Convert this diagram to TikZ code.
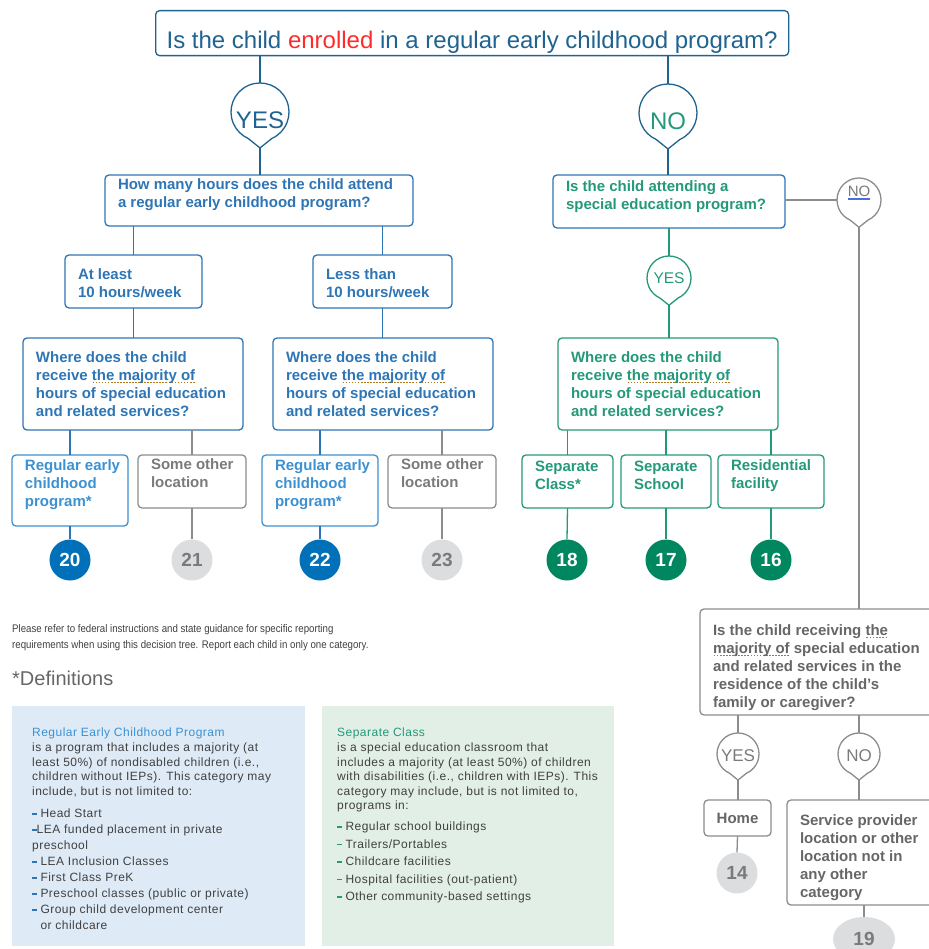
\documentclass[tikz,border=0pt]{standalone}
\usepackage{fontspec}
\setmainfont{Liberation Sans}
\newfontfamily\narrowfont{Liberation Sans}[FakeStretch=0.88]
\newfontfamily\panelfont{Liberation Sans}[LetterSpace=4]
\usetikzlibrary{calc, shapes.geometric}

\definecolor{navy}{HTML}{1F6391}
\definecolor{qblue}{HTML}{2E75B5}
\definecolor{lblue}{HTML}{3C91D2}
\definecolor{fblue}{HTML}{0070B8}
\definecolor{qgreen}{HTML}{23997A}
\definecolor{fgreen}{HTML}{00875F}
\definecolor{gline}{HTML}{8C8C8C}
\definecolor{gtext}{HTML}{7A7A7A}
\definecolor{gdark}{HTML}{666666}
\definecolor{gfill}{HTML}{DCDDDF}
\definecolor{pblue}{HTML}{DEEAF6}
\definecolor{pgreen}{HTML}{E2EFE7}
\definecolor{ptext}{HTML}{404040}
\definecolor{enred}{HTML}{FF2A2A}
\definecolor{spellc}{HTML}{B07A1C}
\definecolor{ulblue}{HTML}{4A6FD8}

% dotted marks under words, as in the source
\newlength\spw
\newcommand\spell[1]{\leavevmode\settowidth\spw{#1}\rlap{\raisebox{-2.8pt}{\textcolor{spellc}{\hbox to\spw{\xleaders\hbox to 3pt{\hss\rule{1.7pt}{1.1pt}\hss}\hfill}}}}#1}
\newcommand\blueul[1]{\leavevmode\settowidth\spw{#1}\rlap{\textcolor{ulblue}{\rule[-2pt]{\spw}{0.6pt}\llap{\rule[-3.4pt]{\spw}{0.6pt}}}}#1}
\newcommand\listdash[1]{\textcolor{#1}{\rule[3pt]{4.5pt}{1.6pt}}}

% speech bubble: name, centre, diameter, line colour, text options, text
\newcommand\bubble[6]{%
  \node[circle, minimum size=#3, inner sep=0pt, outer sep=0pt] (#1) at (#2) {};
  \coordinate (#1t) at ($(#1.south)+(0pt,-0.12*#3)$);
  \draw[#4, line width=1.3pt] (#1.-66) arc[start angle=-66, end angle=246, radius=0.5*#3] -- (#1t) -- cycle;
  \node[inner sep=0pt, #5] (#1l) at (#1) {#6};}

\tikzset{
  qbox/.style 2 args={draw=#1, text=#2, line width=1.3pt, rounded corners=4pt,
    anchor=north west, inner sep=0pt, outer sep=0pt,
    font=\fontsize{15}{18}\selectfont\bfseries},
  boxsize/.style n args={3}{
    execute at begin node={\begin{minipage}[c][#2pt][t]{#1pt}\vspace*{#3pt}\raggedright\leftskip=13pt\strut},
    execute at end node={\end{minipage}}},
  numc/.style={circle, fill=#1, minimum size=41pt, inner sep=0pt,
    font=\fontsize{19}{19}\selectfont\bfseries},
  conn/.style={draw=#1, line width=1.3pt},
  paneltext/.style={anchor=north west, inner sep=0pt, align=left, text=ptext,
    font=\panelfont\fontsize{12}{14.6}\selectfont}
}

\begin{document}
\begin{tikzpicture}[x=1pt, y=-1pt]
\useasboundingbox (0,0) rectangle (928,949);

% question at the top
\node[draw=navy, line width=1.3pt, rounded corners=4pt, anchor=north west, inner sep=0pt,
  text=navy, font=\fontsize{24}{26}\selectfont] (title) at (155,10)
  {\begin{minipage}[c][45pt][b]{633pt}\centering Is the child \textcolor{enred}{enrolled} in a regular early childhood program?\vspace{2pt}\end{minipage}};

\bubble{yesL}{260,112}{58pt}{navy}{text=navy, font=\fontsize{24}{24}\selectfont, yshift=-8pt}{YES}
\bubble{noT}{668,113}{58pt}{navy}{text=qgreen, font=\fontsize{24}{24}\selectfont, yshift=-8pt}{NO}

% enrolled branch
\node[qbox={qblue}{qblue}, boxsize={308}{51}{2}] (hoursQ) at (105,175)
  {How many hours does the child attend\\a regular early childhood program?};
\node[qbox={qblue}{qblue}, boxsize={137}{53}{12}] (atLeast) at (65,255) {At least\\10 hours/week};
\node[qbox={qblue}{qblue}, boxsize={139}{53}{12}] (lessThan) at (313,255) {Less than\\10 hours/week};
\node[qbox={qblue}{qblue}, boxsize={220}{92}{12}] (whereL) at (23,338)
  {Where does the child\\receive \spell{the majority of}\\hours of special education\\and related services?};
\node[qbox={qblue}{qblue}, boxsize={220}{92}{12}] (whereM) at (273,338)
  {Where does the child\\receive \spell{the majority of}\\hours of special education\\and related services?};
\node[qbox={lblue}{lblue}, boxsize={116}{71}{3}] (regL) at (12,455) {Regular early\\childhood\\program*};
\node[qbox={gline}{gtext}, boxsize={108}{53}{2}] (otherL) at (138,455) {Some other\\location};
\node[qbox={lblue}{lblue}, boxsize={116}{71}{3}] (regM) at (262,455) {Regular early\\childhood\\program*};
\node[qbox={gline}{gtext}, boxsize={108}{53}{2}] (otherM) at (388,455) {Some other\\location};

\node[numc=fblue, text=white] (n20) at (70,560) {20};
\node[numc=gfill, text=gtext] (n21) at (192,560) {21};
\node[numc=fblue, text=white] (n22) at (320,560) {22};
\node[numc=gfill, text=gtext] (n23) at (442,560) {23};

% not enrolled branch
\node[qbox={qblue}{qgreen}, boxsize={232}{53}{4}] (specQ) at (553,175)
  {Is the child attending a\\special education program?};
\bubble{noR}{859,200}{44pt}{gline}{text=gtext, font=\fontsize{15}{15}\selectfont, yshift=7pt}{\blueul{NO}}
\bubble{yesR}{669,278}{44pt}{qgreen}{text=qgreen, font=\fontsize{15.5}{15.5}\selectfont}{YES}
\node[qbox={qgreen}{qgreen}, boxsize={220}{92}{12}] (whereR) at (558,338)
  {Where does the child\\receive \spell{the majority of}\\hours of special education\\and related services?};
\node[qbox={qgreen}{qgreen}, boxsize={91}{53}{4}] (sepClass) at (522,455) {Separate\\Class*};
\node[qbox={qgreen}{qgreen}, boxsize={90}{53}{4}] (sepSchool) at (621,455) {Separate\\School};
\node[qbox={qgreen}{qgreen}, boxsize={106}{53}{3}] (resid) at (718,455) {Residential\\facility};

\node[numc=fgreen, text=white] (n18) at (567,560) {18};
\node[numc=fgreen, text=white] (n17) at (666,560) {17};
\node[numc=fgreen, text=white] (n16) at (771,560) {16};

% home or elsewhere
\node[qbox={gline}{gdark}, boxsize={240}{106}{14}] (homeQ) at (700,609)
  {Is the child receiving \spell{the}\\\spell{majority of} special education\\and related services in the\\residence of the child’s\\family or caregiver?};
\bubble{yesB}{738,754}{42pt}{gline}{text=gtext, font=\fontsize{17}{17}\selectfont, yshift=-2pt}{YES}
\bubble{noB}{859,754}{42pt}{gline}{text=gtext, font=\fontsize{17}{17}\selectfont, yshift=-2pt}{NO}
\node[qbox={gline}{gdark}, minimum width=67pt, minimum height=36pt] (home) at (704,800) {Home};
\node[qbox={gline}{gdark}, boxsize={160}{105}{13}] (servProv) at (787,800)
  {Service provider\\location or other\\location not in\\any other\\category};
\node[numc=gfill, text=gtext] (n14) at (737,873) {14};
\node[ellipse, fill=gfill, minimum width=62pt, minimum height=44pt, inner sep=0pt, text=gtext,
  font=\fontsize{19}{19}\selectfont\bfseries] (n19) at (864,939) {19};

% connectors
\draw[conn=navy] (yesL.north |- title.south) -- (yesL.north);
\draw[conn=navy] (yesLt) -- (yesLt |- hoursQ.north);
\draw[conn=navy] (noT.north |- title.south) -- (noT.north);
\draw[conn=navy] (noTt) -- (noTt |- specQ.north);
\draw[conn=qblue] (atLeast.north |- hoursQ.south) -- (atLeast.north);
\draw[conn=qblue] (lessThan.north |- hoursQ.south) -- (lessThan.north);
\draw[conn=qblue] (atLeast.south) -- (atLeast.south |- whereL.north);
\draw[conn=qblue] (lessThan.south) -- (lessThan.south |- whereM.north);
\draw[conn=qblue] (regL.north |- whereL.south) -- (regL.north);
\draw[conn=gline] (otherL.north |- whereL.south) -- (otherL.north);
\draw[conn=qblue] (regM.north |- whereM.south) -- (regM.north);
\draw[conn=gline] (otherM.north |- whereM.south) -- (otherM.north);
\draw[conn=qblue] (regL.south) -- (n20.north);
\draw[conn=gline] (otherL.south) -- (n21.north);
\draw[conn=qblue] (regM.south) -- (n22.north);
\draw[conn=gline] (otherM.south) -- (n23.north);
\draw[conn=gline] (noR.west -| specQ.east) -- (noR.west);
\draw[conn=gline] (noRt) -- (noRt |- homeQ.north);
\draw[conn=qgreen] (yesR.north |- specQ.south) -- (yesR.north);
\draw[conn=qgreen] (yesRt) -- (yesRt |- whereR.north);
\draw[conn=qgreen] (sepClass.north |- whereR.south) -- (sepClass.north);
\draw[conn=qgreen] (sepSchool.north |- whereR.south) -- (sepSchool.north);
\draw[conn=qgreen] (resid.north |- whereR.south) -- (resid.north);
\draw[conn=qgreen] (sepClass.south) -- (n18.north);
\draw[conn=qgreen] (sepSchool.south) -- (n17.north);
\draw[conn=qgreen] (resid.south) -- (n16.north);
\draw[conn=gline] (yesB.north |- homeQ.south) -- (yesB.north);
\draw[conn=gline] (noB.north |- homeQ.south) -- (noB.north);
\draw[conn=gline] (yesBt) -- (yesBt |- home.north);
\draw[conn=gline] (noBt) -- (noBt |- servProv.north);
\draw[conn=gline] (home.south) -- (n14.north);
\draw[conn=gline] (n19.north |- servProv.south) -- (n19.north);

% notes and definitions
\node[anchor=north west, inner sep=0pt, align=left, text=ptext,
  font=\narrowfont\fontsize{11}{16}\selectfont] (note) at (12,624)
  {Please refer to federal instructions and state guidance for specific reporting\\requirements when using this decision tree. Report each child in only one category.};
\node[anchor=north west, inner sep=0pt, text=gdark, font=\fontsize{20}{20}\selectfont] (defs) at (12,671) {*Definitions};

\fill[pblue] (12,706) rectangle (305,946);
\fill[pgreen] (322,706) rectangle (614,946);

\node[paneltext] (regHead) at (32,728)
  {\textcolor{lblue}{Regular Early Childhood Program}\\is a program that includes a majority (at\\least 50\%) of nondisabled children (i.e.,\\children without IEPs). This category may\\include, but is not limited to:};
\node[paneltext, font=\panelfont\fontsize{12}{16}\selectfont] (regList) at (32,809)
  {\listdash{qblue}\ Head Start\\\listdash{qblue}LEA funded placement in private\\preschool\\\listdash{qblue}\ LEA Inclusion Classes\\\listdash{qblue}\ First Class PreK\\\listdash{qblue}\ Preschool classes (public or private)\\\listdash{qblue}\ Group child development center\\\phantom{\listdash{qblue}\ }or childcare};

\node[paneltext] (sepHead) at (337,728)
  {\textcolor{qgreen}{Separate Class}\\is a special education classroom that\\includes a majority (at least 50\%) of children\\with disabilities (i.e., children with IEPs). This\\category may include, but is not limited to,\\programs in:};
\node[paneltext, font=\panelfont\fontsize{12}{17.5}\selectfont] (sepList) at (337,822)
  {\listdash{qgreen}\ Regular school buildings\\\listdash{qgreen}\ Trailers/Portables\\\listdash{qgreen}\ Childcare facilities\\\listdash{qgreen}\ Hospital facilities (out-patient)\\\listdash{qgreen}\ Other community-based settings};
\end{tikzpicture}
\end{document}
